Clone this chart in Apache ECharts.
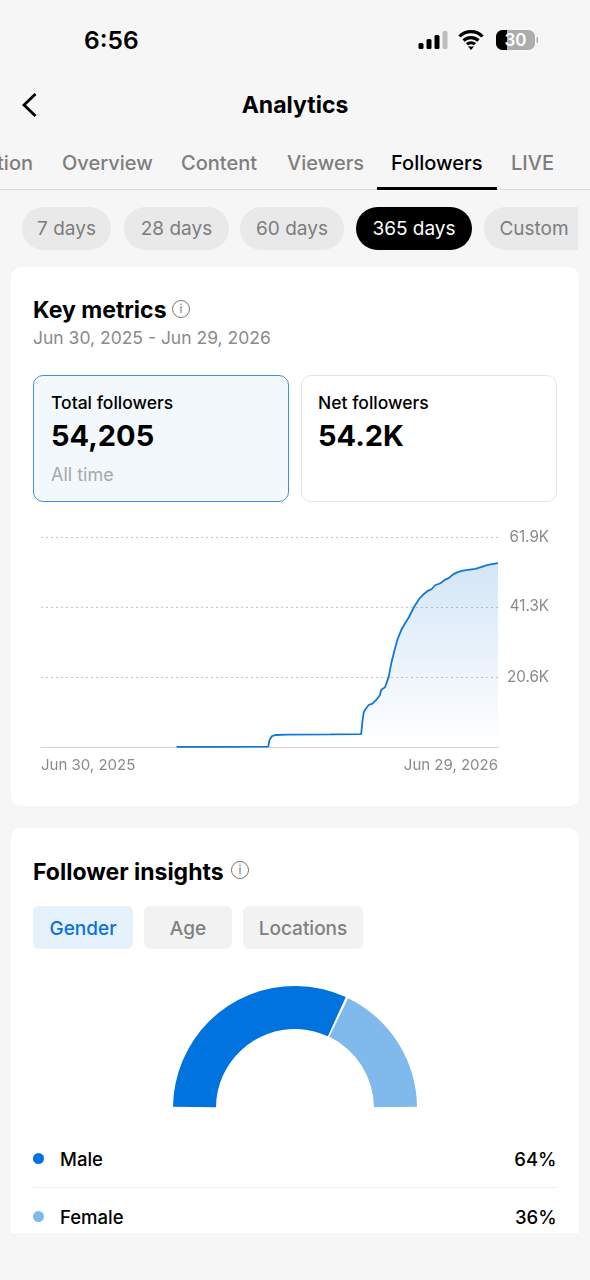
<!DOCTYPE html>
<html>
<head>
<meta charset="utf-8">
<title>Analytics</title>
<script src="https://cdn.jsdelivr.net/npm/echarts@6/dist/echarts.min.js"></script>
<style>
html,body{margin:0;padding:0;background:#f6f6f6;}
body{position:relative;width:590px;height:1280px;overflow:hidden;font-family:Inter,"Noto Sans",sans-serif;color:#000;}
.t{position:absolute;white-space:nowrap;height:30px;line-height:30px;}
.box{position:absolute;box-sizing:border-box;}
.tab{font-size:20px;color:#7e7e7e;font-weight:500;}
.pill{position:absolute;top:207px;height:43px;line-height:44px;border-radius:22px;background:#e9e9e9;color:#7d7d7d;font-size:19px;text-align:center;}
.chip{position:absolute;top:906px;height:43px;line-height:45px;border-radius:6px;background:#f2f2f2;color:#808080;font-size:19px;font-weight:500;text-align:center;}
.card{position:absolute;left:11px;width:568px;background:#fff;}
.h{font-size:23px;font-weight:700;}
.info{position:absolute;width:16px;height:16px;border:1.3px solid #777;border-radius:50%;color:#777;font-size:12px;line-height:16px;text-align:center;}
#lineChart{position:absolute;left:0;top:520px;width:590px;height:270px;}
#pieChart{position:absolute;left:0;top:970px;width:590px;height:150px;}
.dot{position:absolute;left:33px;width:11px;height:11px;border-radius:50%;}
</style>
</head>
<body>
<!-- status bar -->
<div class="t" style="left:84px;top:25px;font-size:24.500px;font-weight:600;">6:56</div>
<svg class="box" style="left:418px;top:28px" width="122" height="24" viewBox="0 0 122 24">
  <rect x="0.500" y="15" width="5" height="6" rx="1.500" fill="#000"/>
  <rect x="8.500" y="11" width="5" height="10" rx="1.500" fill="#000"/>
  <rect x="16.500" y="7" width="5" height="14" rx="1.500" fill="#000"/>
  <rect x="24.500" y="3" width="5" height="18" rx="1.500" fill="#bdbdbd"/>
  <path d="M41.500 8.500a16 16 0 0 1 23 0M45.500 12.500a11 11 0 0 1 15 0M49 16.300a6 6 0 0 1 8 0" fill="none" stroke="#000" stroke-width="3.200"/>
  <path d="M50 18.500h6l-3 3.500z" fill="#000"/>
  <rect x="78" y="2" width="39" height="20" rx="6.500" fill="#adadad"/>
  <path d="M84.500 2H89V22H84.500A6.500 6.500 0 0 1 78 15.500V8.500A6.500 6.500 0 0 1 84.500 2z" fill="#000"/>
  <rect x="118.500" y="9" width="1.500" height="6" rx="0.700" fill="#adadad"/>
  <text x="97.500" y="18" font-size="17" font-weight="600" fill="#fff" text-anchor="middle" font-family="Inter">30</text>
</svg>

<!-- nav -->
<svg class="box" style="left:20px;top:92px" width="20" height="26" viewBox="0 0 20 26"><path d="M15.500 2L4 13l11.500 11" fill="none" stroke="#000" stroke-width="2.800"/></svg>
<div class="t" style="left:0;width:590px;text-align:center;top:89.500px;font-size:23px;font-weight:700;">Analytics</div>

<!-- tabs -->
<div class="t tab" style="left:-27px;top:148px;width:60px;text-align:right;overflow:hidden;direction:rtl;">tion</div>
<div class="t tab" style="left:62px;top:148px;">Overview</div>
<div class="t tab" style="left:181px;top:148px;">Content</div>
<div class="t tab" style="left:287px;top:148px;">Viewers</div>
<div class="t tab" style="left:391px;top:148px;color:#000;">Followers</div>
<div class="t tab" style="left:511px;top:148px;">LIVE</div>
<div class="box" style="left:0;top:189px;width:590px;height:1px;background:#dcdcdc;"></div>
<div class="box" style="left:377px;top:187px;width:120px;height:3px;background:#000;"></div>

<!-- range pills -->
<div class="pill" style="left:22px;width:89px;">7 days</div>
<div class="pill" style="left:124px;width:105px;">28 days</div>
<div class="pill" style="left:240px;width:104px;">60 days</div>
<div class="pill" style="left:356px;width:116px;background:#000;color:#fff;">365 days</div>
<div class="pill" style="left:484px;width:94px;border-radius:22px 0 0 22px;text-indent:6px;">Custom</div>

<!-- key metrics card -->
<div class="card" style="top:267px;height:539px;border-radius:10px;"></div>
<div class="t h" style="left:33px;top:295px;">Key metrics</div>
<div class="info" style="left:172px;top:300px;">i</div>
<div class="t" style="left:33px;top:323px;font-size:17.500px;color:#8a8a8a;">Jun 30, 2025 - Jun 29, 2026</div>

<div class="box" style="left:33px;top:374.500px;width:256px;height:127px;border:1.200px solid #3f92e2;border-radius:10px;background:#f3f8fc;"></div>
<div class="box" style="left:301px;top:374.500px;width:256px;height:127px;border:1.200px solid #e4e4e4;border-radius:10px;background:#fff;"></div>
<div class="t" style="left:51px;top:388px;font-size:17.500px;font-weight:500;">Total followers</div>
<div class="t" style="left:51px;top:420.500px;font-size:29px;font-weight:700;">54,205</div>
<div class="t" style="left:51px;top:460px;font-size:18px;color:#a8a8a8;">All time</div>
<div class="t" style="left:318px;top:388px;font-size:17.500px;font-weight:500;">Net followers</div>
<div class="t" style="left:318px;top:420.500px;font-size:29px;font-weight:700;">54.2K</div>

<div id="lineChart"></div>

<!-- follower insights card -->
<div class="card" style="top:828px;height:405px;border-radius:10px 10px 0 0;"></div>
<div class="t h" style="left:33px;top:856.500px;">Follower insights</div>
<div class="info" style="left:231px;top:861px;">i</div>
<div class="chip" style="left:33px;width:100px;background:#e5f1fb;color:#0a72d6;">Gender</div>
<div class="chip" style="left:144px;width:88px;">Age</div>
<div class="chip" style="left:243px;width:120px;">Locations</div>

<div id="pieChart"></div>
<div id="legend"></div>
<div class="box" style="left:33px;top:1187px;width:524px;height:1px;background:#f0f0f0;"></div>

<script>
// 粉丝累计曲线，dayOffset 是距离 Jun 30, 2025 的天数
var dayOffset = [108, 140, 181, 182, 184, 187, 196, 230, 255, 256, 257, 258, 261, 264, 267, 270, 271, 274, 277, 279, 282, 284, 287, 290, 293, 297, 301, 305, 308, 311, 314, 318, 322, 325, 328, 331, 335, 340, 346, 351, 356, 364];
var followers = [30, 60, 100, 2060, 3240, 3540, 3630, 3700, 3780, 7470, 10125, 10900, 12385, 12780, 13860, 15335, 16900, 17600, 20740, 24670, 29100, 31750, 34500, 36470, 38240, 41190, 43550, 45120, 46000, 46500, 47680, 48265, 49350, 49840, 50820, 51410, 51900, 52200, 52490, 53080, 53670, 54205];
var xTicks = [0, 364];
var xTickLabels = ['Jun 30, 2025', 'Jun 29, 2026'];
var yTicks = [0, 20600, 41300, 61900];
var yTickLabels = ['', '20.6K', '41.3K', '61.9K'];

// 性别比例
var genderNames = ['Male', 'Female'];
var genderValues = [64, 36];
var genderColors = ['#0073de', '#80b9ec'];

var linePoints = [];
dayOffset.forEach(function (d, i) {
    linePoints.push([d, followers[i]]);
});

var lineChart = echarts.init(document.getElementById('lineChart'));
lineChart.setOption({
    animation: false,
    textStyle: {fontFamily: 'Inter'},
    grid: {left: 41, right: 92, top: 17, bottom: 43},
    xAxis: {
        type: 'value',
        min: 0,
        max: 364,
        axisLine: {show: true, onZero: false, lineStyle: {color: '#d2d2d2', width: 1.2}},
        axisTick: {show: false},
        splitLine: {show: false},
        axisLabel: {
            customValues: xTicks,
            color: '#8a8a8a',
            fontSize: 15,
            margin: 11,
            alignMinLabel: 'left',
            alignMaxLabel: 'right',
            formatter: function (v) {
                return xTickLabels[xTicks.indexOf(v)];
            }
        }
    },
    yAxis: {
        type: 'value',
        position: 'right',
        min: 0,
        max: 61900,
        axisLine: {show: false},
        axisTick: {show: false, customValues: yTicks},
        splitLine: {show: true, lineStyle: {color: '#c6c6c6', type: [2, 3], width: 1}},
        axisLabel: {
            customValues: yTicks,
            color: '#8a8a8a',
            fontSize: 15.2,
            align: 'right',
            margin: 51,
            formatter: function (v) {
                return yTickLabels[yTicks.indexOf(v)];
            }
        }
    },
    series: [{
        type: 'line',
        data: linePoints,
        symbol: 'none',
        smooth: false,
        lineStyle: {color: '#0f78d6', width: 1.8},
        areaStyle: {
            color: new echarts.graphic.LinearGradient(0, 0, 0, 1, [
                {offset: 0, color: 'rgba(50,135,220,0.30)'},
                {offset: 1, color: 'rgba(50,135,220,0)'}
            ])
        }
    }]
});

var pieData = [];
genderNames.forEach(function (n, i) {
    pieData.push({name: n, value: genderValues[i], itemStyle: {color: genderColors[i]}});
});
var pieChart = echarts.init(document.getElementById('pieChart'));
pieChart.setOption({
    animation: false,
    series: [{
        type: 'pie',
        center: [295, 138],
        radius: [79, 122],
        startAngle: 180,
        endAngle: 360,
        padAngle: 1.2,
        label: {show: false},
        labelLine: {show: false},
        silent: true,
        data: pieData
    }]
});

// 图例
var rowTop = [1158.5, 1216.5], html = '';
genderNames.forEach(function (n, i) {
    html += '<div class="dot" style="top:' + (rowTop[i] - 6) + 'px;background:' + genderColors[i] + ';"></div>' +
        '<div class="t" style="left:60px;top:' + (rowTop[i] - 15) + 'px;font-size:18.500px;font-weight:500;">' + n + '</div>' +
        '<div class="t" style="right:33.500px;top:' + (rowTop[i] - 15) + 'px;font-size:18.500px;font-weight:500;">' + genderValues[i] + '%</div>';
});
document.getElementById('legend').innerHTML = html;
</script>
</body>
</html>
